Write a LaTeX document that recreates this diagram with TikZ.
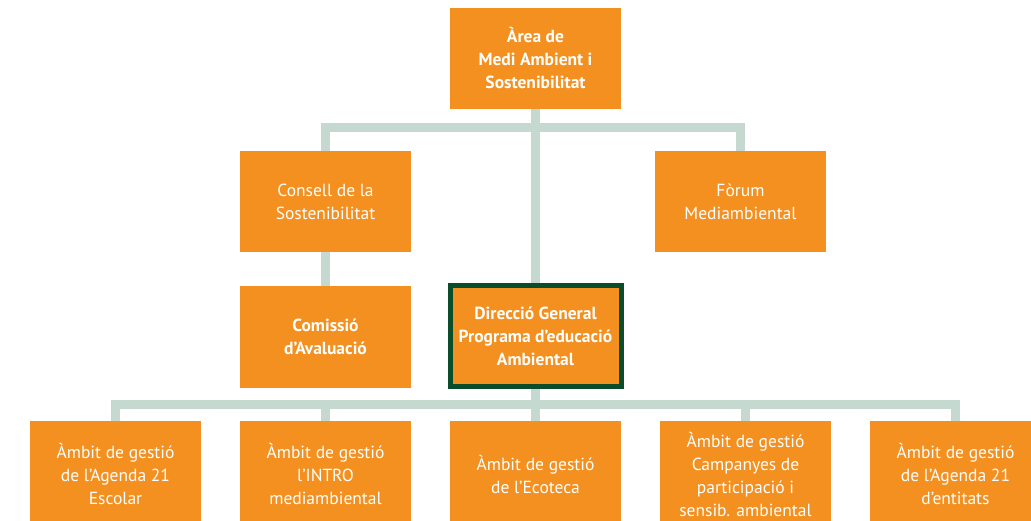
\documentclass[tikz,border=0pt]{standalone}
\usepackage{fontspec}
\setmainfont{PT Sans}
\usetikzlibrary{backgrounds}
\definecolor{org}{HTML}{F39020}
\definecolor{connc}{HTML}{C5D9D1}
\definecolor{dgreen}{HTML}{0B4D2B}
\begin{document}
\begin{tikzpicture}[x=1pt,y=-1pt,
  box/.style={fill=org, minimum width=171pt, minimum height=101pt, inner sep=0pt,
    text=white, align=center, font=\fontsize{17.5}{23}\selectfont},
  boldbox/.style={box, font=\fontsize{17.5}{23}\selectfont\bfseries},
  lowbox/.style={box, minimum height=106pt},
  connector/.style={draw=connc, line width=9pt}]
\useasboundingbox (0,0) rectangle (1031,520);
\clip (0,0) rectangle (1031,520);
% nodes
\node[boldbox] (top) at (535.5,58.5) {Àrea de\\Medi Ambient i\\Sostenibilitat};
\node[box] (consell) at (325.5,201.5) {Consell de la\\Sostenibilitat};
\node[box] (forum) at (740.5,201.5) {Fòrum\\Mediambiental};
\node[boldbox, minimum height=102pt] (comissio) at (325.5,337) {Comissió\\d’Avaluació};
\node[boldbox, draw=dgreen, line width=5pt] (dir) at (535.5,336) {Direcció General\\Programa d’educació\\Ambiental};
\node[lowbox] (b1) at (115.5,474) {Àmbit de gestió\\de l’Agenda 21\\Escolar};
\node[lowbox] (b2) at (325.5,474) {Àmbit de gestió\\l’INTRO\\mediambiental};
\node[lowbox] (b3) at (535.5,474) {Àmbit de gestió\\de l’Ecoteca};
\node[lowbox] (b4) at (745.5,474) {Àmbit de gestió\\Campanyes de\\participació i\\sensib. ambiental};
\node[lowbox] (b5) at (955.5,474) {Àmbit de gestió\\de l’Agenda 21\\d’entitats};
% connectors (behind)
\begin{scope}[on background layer]
\draw[connector] (consell.north) -- ++(0,-23) -| (forum.north);
\draw[connector] (top.south) -- (dir.north);
\draw[connector] (consell.south) -- (comissio.north);
\draw[connector] (b1.north) -- ++(0,-16.5) -| (b5.north);
\draw[connector] (dir.south) -- (b3.north);
\draw[connector] (b2.north) -- ++(0,-20);
\draw[connector] (b4.north) -- ++(0,-20);
\end{scope}
\end{tikzpicture}
\end{document}
